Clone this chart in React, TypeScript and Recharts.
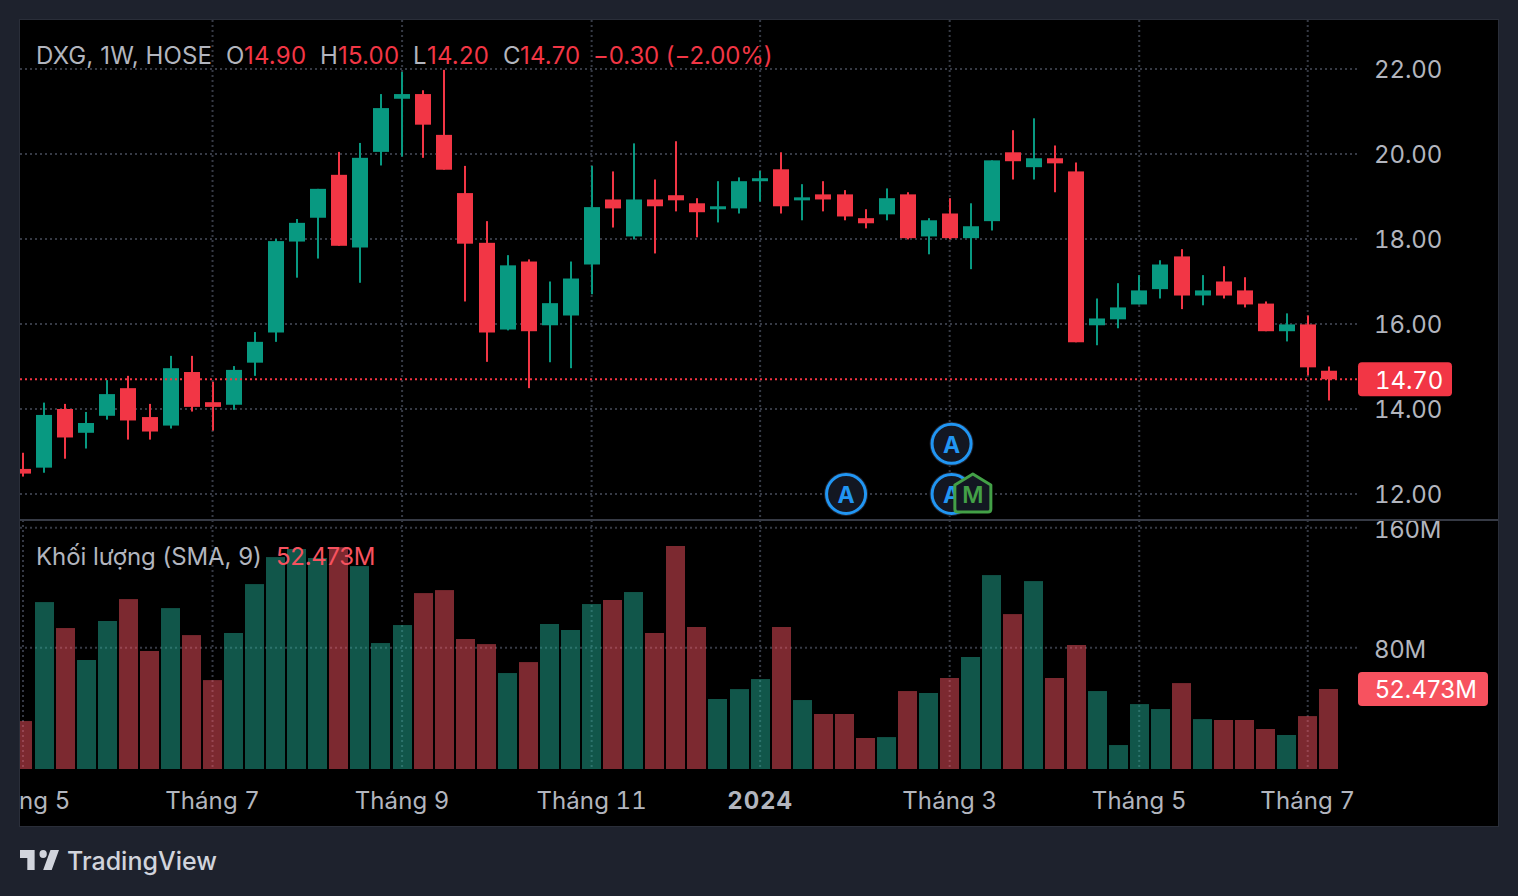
import React from "react";
import { ComposedChart, Bar, XAxis, YAxis, CartesianGrid, ReferenceLine, ReferenceDot } from "recharts";

const opens = [12.59,12.62,14.0,13.44,13.84,14.49,13.81,13.61,14.87,14.16,14.1,15.09,15.8,17.94,18.5,19.51,17.8,20.05,21.3,21.41,20.45,19.08,17.91,15.87,17.47,15.97,16.2,17.4,18.93,18.06,18.93,19.03,18.84,18.7,18.72,19.36,19.64,18.91,19.05,19.05,18.49,18.58,19.05,18.06,18.6,18.02,18.42,20.04,19.69,19.9,19.59,15.97,16.11,16.46,16.82,17.59,16.67,17.0,16.79,16.48,15.83,15.99,14.9];
const closes = [12.48,13.86,13.33,13.67,14.35,13.73,13.47,14.96,14.05,14.05,14.92,15.58,17.95,18.38,19.18,17.84,19.91,21.08,21.41,20.69,19.63,17.89,15.8,17.38,15.83,16.49,17.07,18.75,18.72,18.93,18.77,18.91,18.63,18.77,19.36,19.43,18.77,18.98,18.93,18.53,18.37,18.96,18.02,18.44,18.02,18.3,19.85,19.83,19.9,19.78,15.57,16.13,16.39,16.79,17.4,16.67,16.79,16.67,16.46,15.83,15.99,14.98,14.7];
const highs = [12.97,14.15,14.12,13.93,14.68,14.78,14.12,15.25,15.25,14.64,15.01,15.81,18.0,18.47,19.18,20.05,20.26,21.41,21.93,21.5,21.98,19.72,18.42,17.62,17.52,17.0,17.47,19.72,19.59,20.25,19.4,20.3,18.96,19.36,19.45,19.6,20.04,19.29,19.36,19.15,18.7,19.19,19.1,18.49,18.96,18.84,19.85,20.56,20.84,20.2,19.8,16.6,16.96,17.15,17.5,17.76,17.15,17.36,17.1,16.53,16.25,16.2,15.0];
const lows = [12.41,12.5,12.83,13.07,13.75,13.28,13.28,13.54,13.94,13.49,13.98,14.78,15.58,17.09,17.54,17.84,16.97,19.73,19.94,19.91,19.63,16.53,15.11,15.85,14.49,15.1,14.96,16.7,18.27,17.99,17.66,18.65,18.04,18.39,18.6,18.88,18.6,18.44,18.65,18.44,18.25,18.44,17.99,17.64,17.99,17.29,18.2,19.4,19.4,19.1,15.57,15.5,15.9,16.46,16.6,16.35,16.44,16.6,16.39,15.83,15.59,14.79,14.2];
const volumes = [31.1,110.4,93.1,71.8,97.8,112.4,77.8,106.4,88.4,58.4,89.8,122.4,140.4,145.8,139.8,147,134.4,83.1,95.1,116.4,118.4,85.8,82.4,63.1,70.4,95.8,91.8,109.1,111.8,117.1,89.8,147.8,93.8,45.8,52.4,59.1,93.8,45.1,35.8,35.8,19.8,20.4,51.1,49.8,59.8,73.8,128.4,102.4,124.4,59.8,81.8,51.1,15.1,42.4,39.1,56.4,32.4,31.8,31.8,25.8,21.8,34.4,52.473];

const timeTickIndex = [0, 9, 18, 27, 35, 44, 53, 61];
const timeTickLabels = ["Tháng 5", "Tháng 7", "Tháng 9", "Tháng 11", "2024", "Tháng 3", "Tháng 5", "Tháng 7"];
const priceTicks = [12, 14, 16, 18, 20, 22];
const volumeTicks = [80, 160];
const lastPrice = 14.7;
const lastVolume = 52.473;
const volumeFloor = -0.87;
const xDomain: [number, number] = [-0.142, 63.34];
const priceDomain: [number, number] = [11.388, 23.153];
const volumeDomain: [number, number] = [volumeFloor, 165.13];

const events = [
  { i: 39.08, price: 12.0, kind: "A" },
  { i: 44.09, price: 13.18, kind: "A" },
  { i: 44.09, price: 12.0, kind: "A" },
  { i: 45.1, price: 12.0, kind: "M" },
];

const UP = "#089981";
const DOWN = "#f23645";
const TEXT = "#b2b5be";
const GRID = "#363a45";
const FONT = "Inter, 'Noto Sans', sans-serif";

const rows = opens.map((open, i) => ({
  i,
  open,
  close: closes[i],
  high: highs[i],
  low: lows[i],
  range: [lows[i], highs[i]],
  volume: volumes[i],
  volRange: [volumeFloor, volumes[i]],
}));

function Candle(props: any) {
  const { x, y, width, height, payload } = props;
  const cx = Math.round(x + width / 2 - 0.3);
  const unit = height / (payload.high - payload.low || 1);
  const topVal = Math.max(payload.open, payload.close);
  const botVal = Math.min(payload.open, payload.close);
  const bodyY = y + (payload.high - topVal) * unit;
  const bodyH = Math.max((topVal - botVal) * unit, 3);
  const color = payload.close >= payload.open ? UP : DOWN;
  return (
    <g>
      <rect x={cx - 1} y={y} width={2} height={height} fill={color} />
      <rect x={cx - 8} y={bodyY} width={16} height={bodyH} fill={color} />
    </g>
  );
}

function VolumeBar(props: any) {
  const { x, y, width, height, payload } = props;
  const left = Math.round(x + width / 2 - 9.5);
  const color = payload.close >= payload.open ? "rgba(34,171,148,0.5)" : "rgba(247,82,95,0.5)";
  return <rect x={left} y={y} width={19} height={height} fill={color} />;
}

function AxisLabel(props: any) {
  const { x, y, payload, suffix = "", digits, dy = 0.5, spacing = -0.1 } = props;
  const v = digits != null ? payload.value.toFixed(digits) : payload.value;
  return (
    <text x={x - 1} y={y + dy} dominantBaseline="central" textAnchor="start" fontFamily={FONT} fontSize={24} letterSpacing={spacing} fill={TEXT} style={{ fontVariantNumeric: "tabular-nums" }}>
      {v}
      {suffix}
    </text>
  );
}

function TimeLabel(props: any) {
  const { x, y, payload, index } = props;
  const label = timeTickLabels[index ?? timeTickIndex.indexOf(payload.value)];
  const bold = label === "2024";
  return (
    <text x={x} y={y} dominantBaseline="central" textAnchor="middle" fontFamily={FONT} fontSize={24} letterSpacing={bold ? 0.9 : 0.1} fontWeight={bold ? 700 : 400} fill={TEXT} style={{ fontVariantNumeric: "tabular-nums" }}>
      {label}
    </text>
  );
}

function Tag(props: any) {
  const { viewBox, text, w, color, spacing = -0.1, numeric = "tabular-nums" } = props;
  const left = viewBox.x + viewBox.width + 1;
  const mid = viewBox.y;
  return (
    <g>
      <rect x={left} y={mid - 17} width={w} height={34} rx={4} fill={color} />
      <text x={left + 17} y={mid + 1} dominantBaseline="central" fontFamily={FONT} fontSize={24} letterSpacing={spacing} fill="#ffffff" style={{ fontVariantNumeric: numeric }}>
        {text}
      </text>
    </g>
  );
}

function EventMark(props: any) {
  const { cx, cy, kind } = props;
  if (kind === "M") {
    const d = `M${cx} ${cy - 20} L${cx + 18} ${cy - 9} L${cx + 18} ${cy + 15} Q${cx + 18} ${cy + 18} ${cx + 15} ${cy + 18} L${cx - 15} ${cy + 18} Q${cx - 18} ${cy + 18} ${cx - 18} ${cy + 15} L${cx - 18} ${cy - 9} Z`;
    return (
      <g>
        <path d={d} fill="#131722" stroke="#43a047" strokeWidth={3} strokeLinejoin="round" />
        <text x={cx} y={cy + 1} textAnchor="middle" dominantBaseline="central" fontFamily={FONT} fontSize={23} fontWeight={600} fill="#43a047">
          M
        </text>
      </g>
    );
  }
  return (
    <g>
      <circle cx={cx} cy={cy} r={22} fill="#1e222d" />
      <circle cx={cx} cy={cy} r={19.5} fill="#131722" stroke="#2196f3" strokeWidth={3} />
      <text x={cx} y={cy + 1} textAnchor="middle" dominantBaseline="central" fontFamily={FONT} fontSize={23} fontWeight={700} fill="#2196f3">
        A
      </text>
    </g>
  );
}

const legendTop = [
  { left: 36, text: "DXG, 1W, HOSE", color: TEXT, spacing: 0.13 },
  { left: 226, text: "O", color: TEXT, spacing: 0.2 },
  { left: 244, text: "14.90", color: DOWN, spacing: 0.2 },
  { left: 320, text: "H", color: TEXT, spacing: 0.2 },
  { left: 338, text: "15.00", color: DOWN, spacing: 0.2 },
  { left: 413, text: "L", color: TEXT, spacing: 0.2 },
  { left: 427, text: "14.20", color: DOWN, spacing: 0.2 },
  { left: 503, text: "C", color: TEXT, spacing: 0.2 },
  { left: 520, text: "14.70", color: DOWN, spacing: 0.2 },
  { left: 593, text: "−0.30 (−2.00%)", color: DOWN, spacing: -0.1 },
];
const legendVolume = [
  { left: 36, text: "Khối lượng (SMA, 9)", color: TEXT, spacing: -0.06 },
  { left: 276, text: "52.473M", color: "#f7525f", spacing: -0.3 },
];

function LegendRow({ items, top }: { items: { left: number; text: string; color: string; spacing: number }[]; top: number }) {
  return (
    <>
      {items.map((it) => (
        <span
          key={it.left}
          style={{ position: "absolute", left: it.left, top, lineHeight: "30px", fontSize: 24, letterSpacing: it.spacing, fontFamily: FONT, color: it.color, whiteSpace: "nowrap" }}
        >
          {it.text}
        </span>
      ))}
    </>
  );
}

export default function App() {
  return (
    <div style={{ position: "absolute", left: 0, top: 0, width: 1518, height: 896, background: "#1e222d", overflow: "hidden" }}>
      <div style={{ position: "absolute", left: 20, top: 20, width: 1478, height: 806, background: "#000" }} />

      <div style={{ position: "absolute", left: 20, top: 20 }}>
        <ComposedChart width={1478} height={500} data={rows} margin={{ top: 0, right: 0, bottom: 0, left: 0 }}>
          <CartesianGrid stroke={GRID} strokeWidth={2} strokeDasharray="2 3" horizontalValues={priceTicks} verticalValues={timeTickIndex} />
          <XAxis dataKey="i" type="number" domain={xDomain} allowDataOverflow hide ticks={timeTickIndex} />
          <YAxis
            orientation="right"
            width={141}
            type="number"
            domain={priceDomain}
            allowDataOverflow
            ticks={priceTicks}
            interval={0}
            axisLine={false}
            tickLine={false}
            tickMargin={12}
            tick={<AxisLabel digits={2} />}
          />
          <Bar dataKey="range" barSize={16} shape={<Candle />} isAnimationActive={false} />
          <ReferenceLine y={lastPrice} stroke={DOWN} strokeWidth={2} strokeDasharray="2 3" label={<Tag text={lastPrice.toFixed(2)} w={94} color={DOWN} />} />
          {events.map((e, k) => (
            <ReferenceDot key={k} x={e.i} y={e.price} r={20} ifOverflow="visible" shape={<EventMark kind={e.kind} />} />
          ))}
        </ComposedChart>
      </div>

      <div style={{ position: "absolute", left: 20, top: 520 }}>
        <ComposedChart width={1478} height={306} data={rows} margin={{ top: 0, right: 0, bottom: 0, left: 0 }}>
          <CartesianGrid stroke={GRID} strokeWidth={2} strokeDasharray="2 3" horizontalValues={volumeTicks} verticalValues={timeTickIndex} />
          <XAxis
            dataKey="i"
            type="number"
            domain={xDomain}
            allowDataOverflow
            ticks={timeTickIndex}
            interval={0}
            height={57}
            axisLine={false}
            tickLine={false}
            tickMargin={25}
            tick={<TimeLabel />}
          />
          <YAxis
            orientation="right"
            width={141}
            type="number"
            domain={volumeDomain}
            allowDataOverflow
            ticks={volumeTicks}
            interval={0}
            axisLine={false}
            tickLine={false}
            tickMargin={12}
            tick={<AxisLabel suffix="M" dy={1.5} spacing={-0.3} />}
          />
          <Bar dataKey="volRange" barSize={19} shape={<VolumeBar />} isAnimationActive={false} />
          <ReferenceLine y={lastVolume} stroke="none" label={<Tag text={`${lastVolume}M`} w={130} color="#f7525f" spacing={0.1} numeric="normal" />} />
        </ComposedChart>
      </div>

      <div style={{ position: "absolute", left: 20, top: 519, width: 1478, height: 2, background: "#363a45" }} />
      <div style={{ position: "absolute", left: 19, top: 19, width: 1478, height: 806, border: "1px solid #2a2e39", pointerEvents: "none" }} />

      <LegendRow items={legendTop} top={41} />
      <LegendRow items={legendVolume} top={542} />

      <svg style={{ position: "absolute", left: 20, top: 850 }} width={39} height={20} viewBox="2 6 32 15" preserveAspectRatio="none">
        <path fill="#d1d4dc" d="M14 6H2v6h6v9h6V6Zm14 15h-7l6-15h7l-6 15Zm-7-9a3 3 0 1 0 0-6 3 3 0 0 0 0 6Z" />
      </svg>
      <span style={{ position: "absolute", left: 67, top: 845, lineHeight: "32px", fontSize: 25, fontWeight: 500, fontFamily: FONT, color: "#d1d4dc" }}>TradingView</span>
    </div>
  );
}
